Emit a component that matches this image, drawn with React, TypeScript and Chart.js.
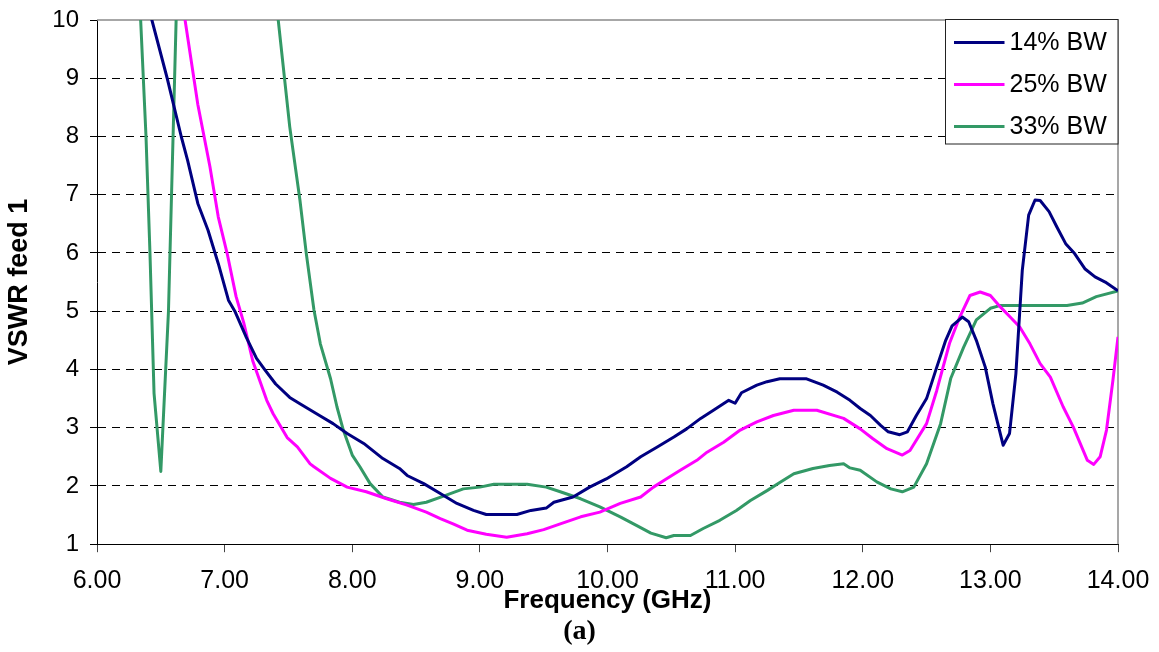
import React, { useEffect, useRef } from 'react';
import { Chart, registerables } from 'chart.js';

Chart.register(...registerables);

// ---- data (frequency in GHz, VSWR) ----
const freq14 = [6.40, 6.43, 6.55, 6.66, 6.71, 6.79, 6.87, 6.95, 7.03, 7.08, 7.17, 7.25, 7.32, 7.40, 7.51, 7.59, 7.75, 7.85, 7.96, 8.09, 8.24, 8.37, 8.43, 8.56, 8.69, 8.82, 8.95, 9.05, 9.29, 9.40, 9.52, 9.58, 9.73, 9.86, 9.99, 10.15, 10.26, 10.39, 10.52, 10.62, 10.73, 10.83, 10.95, 11.00, 11.05, 11.17, 11.25, 11.35, 11.56, 11.69, 11.80, 11.90, 11.98, 12.06, 12.14, 12.20, 12.29, 12.35, 12.42, 12.50, 12.58, 12.65, 12.70, 12.78, 12.83, 12.89, 12.96, 13.02, 13.10, 13.15, 13.20, 13.25, 13.30, 13.35, 13.39, 13.46, 13.52, 13.59, 13.66, 13.74, 13.82, 13.90, 14.00];
const vswr14 = [10.3, 10.0, 9.0, 8.0, 7.59, 6.85, 6.39, 5.82, 5.19, 5.00, 4.55, 4.19, 3.98, 3.75, 3.52, 3.41, 3.20, 3.07, 2.90, 2.73, 2.47, 2.30, 2.18, 2.04, 1.87, 1.70, 1.58, 1.51, 1.51, 1.58, 1.62, 1.72, 1.81, 1.98, 2.12, 2.33, 2.50, 2.67, 2.84, 2.98, 3.16, 3.30, 3.47, 3.42, 3.60, 3.73, 3.79, 3.84, 3.84, 3.73, 3.61, 3.47, 3.33, 3.21, 3.04, 2.93, 2.88, 2.93, 3.21, 3.50, 4.04, 4.50, 4.75, 4.90, 4.82, 4.50, 4.04, 3.41, 2.70, 2.90, 3.93, 5.70, 6.65, 6.91, 6.90, 6.71, 6.45, 6.16, 5.99, 5.73, 5.59, 5.50, 5.35];

const freq25 = [6.66, 6.69, 6.79, 6.885, 6.95, 7.02, 7.09, 7.15, 7.22, 7.33, 7.38, 7.49, 7.57, 7.67, 7.70, 7.83, 7.96, 8.11, 8.27, 8.43, 8.58, 8.69, 8.79, 8.90, 9.05, 9.21, 9.37, 9.50, 9.63, 9.79, 9.94, 10.10, 10.26, 10.36, 10.46, 10.57, 10.70, 10.78, 10.91, 11.04, 11.17, 11.30, 11.46, 11.64, 11.85, 11.98, 12.08, 12.19, 12.31, 12.37, 12.50, 12.58, 12.68, 12.76, 12.84, 12.92, 13.00, 13.08, 13.155, 13.23, 13.31, 13.39, 13.47, 13.57, 13.65, 13.76, 13.81, 13.86, 13.91, 13.96, 14.00];
const vswr25 = [10.3, 10.0, 8.55, 7.48, 6.62, 5.99, 5.25, 4.80, 4.15, 3.47, 3.24, 2.83, 2.67, 2.38, 2.33, 2.13, 1.98, 1.90, 1.78, 1.67, 1.55, 1.44, 1.35, 1.24, 1.17, 1.12, 1.18, 1.25, 1.35, 1.47, 1.55, 1.70, 1.81, 1.98, 2.12, 2.27, 2.44, 2.58, 2.75, 2.96, 3.10, 3.21, 3.30, 3.30, 3.16, 2.98, 2.81, 2.64, 2.53, 2.61, 3.07, 3.64, 4.45, 4.90, 5.27, 5.33, 5.27, 5.07, 4.90, 4.73, 4.44, 4.10, 3.87, 3.36, 3.01, 2.44, 2.37, 2.50, 2.96, 3.81, 4.56];

const freq33 = [6.32, 6.342, 6.384, 6.415, 6.447, 6.50, 6.56, 6.62, 6.63, 7.38, 7.42, 7.51, 7.59, 7.64, 7.70, 7.75, 7.83, 7.88, 7.93, 8.00, 8.06, 8.14, 8.24, 8.37, 8.48, 8.58, 8.71, 8.87, 9.00, 9.11, 9.37, 9.52, 9.63, 9.79, 9.94, 10.10, 10.23, 10.34, 10.46, 10.52, 10.65, 10.75, 10.88, 11.01, 11.12, 11.25, 11.35, 11.46, 11.61, 11.74, 11.85, 11.90, 11.98, 12.11, 12.22, 12.31, 12.40, 12.50, 12.61, 12.69, 12.79, 12.89, 13.00, 13.08, 13.60, 13.72, 13.83, 14.00];
const vswr33 = [11.0, 10.0, 8.0, 6.0, 3.59, 2.25, 5.0, 10.0, 10.9, 10.8, 10.0, 8.17, 6.91, 5.99, 5.02, 4.44, 3.84, 3.36, 2.96, 2.53, 2.33, 2.04, 1.81, 1.72, 1.68, 1.72, 1.82, 1.95, 1.98, 2.03, 2.03, 1.98, 1.90, 1.78, 1.64, 1.47, 1.32, 1.19, 1.11, 1.15, 1.15, 1.27, 1.41, 1.58, 1.75, 1.92, 2.06, 2.21, 2.30, 2.35, 2.38, 2.31, 2.27, 2.07, 1.95, 1.90, 1.98, 2.38, 3.07, 3.85, 4.38, 4.85, 5.05, 5.10, 5.10, 5.14, 5.25, 5.35];

const seriesLabels = ['14% BW', '25% BW', '33% BW'];
const seriesColors = ['#000080', '#FF00FF', '#339966'];

const xMin = 6, xMax = 14, xStep = 1;
const yMin = 1, yMax = 10, yStep = 1;
const xTitle = 'Frequency (GHz)';
const yTitle = 'VSWR feed 1';
const caption = '(a)';

const FONT = "'Liberation Sans', Arial, Helvetica, sans-serif";

const toPoints = (xs: number[], ys: number[]) => xs.map((x, i) => ({ x, y: ys[i] }));

const framePlugin = {
  id: 'frameAndLegend',
  beforeDatasetsDraw(chart: any) {
    const { ctx, chartArea: a } = chart;
    ctx.save();
    ctx.strokeStyle = '#8a8a8a';
    ctx.lineWidth = 1.5;
    ctx.beginPath();
    ctx.moveTo(a.left, a.top);
    ctx.lineTo(a.right, a.top);
    ctx.lineTo(a.right, a.bottom);
    ctx.stroke();
    ctx.restore();
  },
  afterDatasetsDraw(chart: any) {
    const { ctx, chartArea: a } = chart;
    const w = 172.5;
    const h = 124.5;
    const left = a.right - w;
    const top = a.top - 0.5;
    ctx.save();
    ctx.fillStyle = '#ffffff';
    ctx.fillRect(left, top, w, h);
    ctx.strokeStyle = '#222';
    ctx.lineWidth = 1;
    ctx.strokeRect(left, top, w, h);
    ctx.font = `25px ${FONT}`;
    ctx.textBaseline = 'middle';
    ctx.textAlign = 'left';
    chart.data.datasets.forEach((ds: any, i: number) => {
      const y = top + 23 + i * 42;
      ctx.strokeStyle = ds.borderColor;
      ctx.lineWidth = 3;
      ctx.beginPath();
      ctx.moveTo(left + 8.5, y);
      ctx.lineTo(left + 59, y);
      ctx.stroke();
      ctx.fillStyle = '#000';
      ctx.fillText(ds.label, left + 64, y + 1);
    });
    ctx.restore();
  },
};

export default function App() {
  const ref = useRef<HTMLCanvasElement>(null);
  useEffect(() => {
    document.body.style.margin = '0';
    const datasets = [
      toPoints(freq14, vswr14),
      toPoints(freq25, vswr25),
      toPoints(freq33, vswr33),
    ].map((data, i) => ({
      label: seriesLabels[i],
      data,
      borderColor: seriesColors[i],
      backgroundColor: seriesColors[i],
      borderWidth: 3,
      pointRadius: 0,
      tension: 0,
      fill: false,
      clip: 0,
      borderJoinStyle: 'round' as const,
    }));
    const chart = new Chart(ref.current as HTMLCanvasElement, {
      type: 'line',
      data: { datasets },
      plugins: [framePlugin],
      options: {
        animation: false,
        responsive: false,
        maintainAspectRatio: false,
        layout: { autoPadding: false, padding: { left: 0, top: 20, right: 0, bottom: 0 } },
        plugins: {
          legend: { display: false },
          tooltip: { enabled: false },
          title: {
            display: true,
            position: 'bottom',
            text: caption,
            color: '#000',
            font: { family: "'Liberation Serif', 'Times New Roman', serif", size: 28, weight: 'bold' },
            padding: { top: 0, bottom: 3 },
          },
        },
        scales: {
          x: {
            type: 'linear',
            min: xMin,
            max: xMax,
            afterFit: (s: any) => {
              s.height = 71.2;
              s.paddingLeft = 0;
              s.paddingRight = 41;
            },
            ticks: {
              stepSize: xStep,
              color: '#000',
              padding: 14,
              font: { family: FONT, size: 25 },
              callback: (v: any) => Number(v).toFixed(2),
              maxRotation: 0,
              autoSkip: false,
            },
            grid: {
              drawOnChartArea: false,
              drawTicks: true,
              tickLength: 8,
              tickColor: '#444',
              tickWidth: 1,
            },
            border: { display: true, color: '#000', width: 1 },
            title: {
              display: true,
              text: xTitle,
              color: '#000',
              font: { family: FONT, size: 26, weight: 'bold' },
              padding: { top: 0, bottom: -1 },
            },
          },
          y: {
            type: 'linear',
            min: yMin,
            max: yMax,
            afterFit: (s: any) => {
              s.width = 97;
              s.paddingTop = 0;
              s.paddingBottom = 0;
            },
            ticks: {
              stepSize: yStep,
              color: '#000',
              padding: 11,
              font: { family: FONT, size: 24 },
              callback: (v: any) => String(v),
            },
            grid: {
              color: (c: any) => (c.tick && (c.tick.value === yMax || c.tick.value === yMin) ? 'rgba(0,0,0,0)' : '#000'),
              lineWidth: 1,
              tickLength: 7,
              tickColor: '#000',
              tickWidth: 1,
              tickBorderDash: [],
            },
            border: { display: true, color: '#000', width: 1, dash: [8, 6] },
            title: {
              display: true,
              text: yTitle,
              color: '#000',
              font: { family: FONT, size: 27, weight: 'bold' },
              padding: { top: 3, bottom: 0 },
            },
          },
        },
      },
    } as any);
    return () => chart.destroy();
  }, []);
  return (
    <div style={{ width: 1159, height: 652 }}>
      <canvas ref={ref} width={1159} height={652} style={{ display: 'block' }} />
    </div>
  );
}
